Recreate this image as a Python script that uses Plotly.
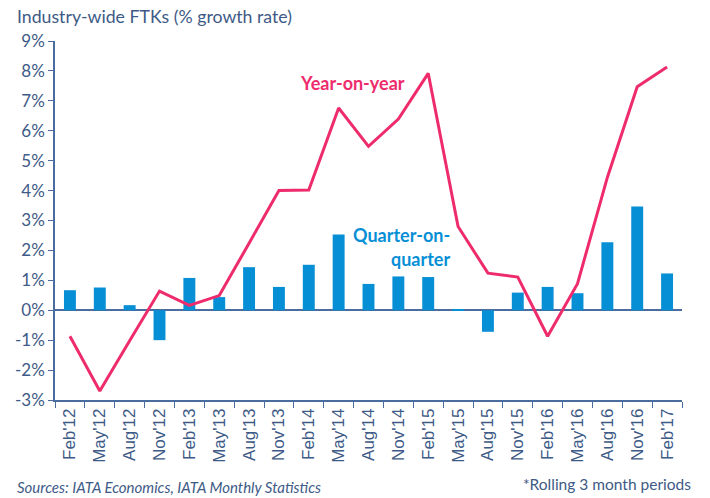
import plotly.graph_objects as go

categories = ["Feb'12", "May'12", "Aug'12", "Nov'12", "Feb'13", "May'13", "Aug'13", "Nov'13",
              "Feb'14", "May'14", "Aug'14", "Nov'14", "Feb'15", "May'15", "Aug'15", "Nov'15",
              "Feb'16", "May'16", "Aug'16", "Nov'16", "Feb'17"]
qoq = [0.67, 0.76, 0.17, -1.0, 1.08, 0.44, 1.44, 0.78, 1.52, 2.53, 0.88, 1.13, 1.11, 0.04,
       -0.72, 0.59, 0.78, 0.57, 2.27, 3.47, 1.23]
yoy = [-0.87, -2.7, -1.02, 0.64, 0.16, 0.49, 2.24, 4.0, 4.02, 6.76, 5.48, 6.39, 7.92, 2.8,
       1.24, 1.11, -0.87, 0.89, 4.44, 7.47, 8.13]
y_ticks = [-3, -2, -1, 0, 1, 2, 3, 4, 5, 6, 7, 8, 9]

axis_col = "#4A6C9E"
text_col = "#3E5A86"
bar_col = "#078FD6"
line_col = "#EE2C6C"
font = "Lato, Open Sans, sans-serif"

PW, PH = 627.0, 359.0  # plot-area size in px

fig = go.Figure()
fig.add_trace(go.Bar(x=categories, y=qoq, marker=dict(color=bar_col, line=dict(width=0)),
                     width=0.4, name="Quarter-on-quarter"))
fig.add_trace(go.Scatter(x=categories, y=yoy, mode="lines", line=dict(color=line_col, width=3),
                         name="Year-on-year"))

fig.update_layout(
    width=710, height=498, showlegend=False,
    plot_bgcolor="white", paper_bgcolor="white",
    margin=dict(l=55, r=28, t=41, b=98),
    font=dict(family=font, color=text_col),
    xaxis=dict(type="category", showline=True, linecolor=axis_col, linewidth=1.5,
               ticks="outside", tickson="boundaries", ticklen=6, tickcolor=axis_col,
               tickangle=-90, showgrid=False, zeroline=False, automargin=False,
               tickfont=dict(family="Liberation Sans, Arial, sans-serif", size=17, color=text_col)),
    yaxis=dict(range=[-3, 9], tickvals=y_ticks, ticktext=[f"{v}%" for v in y_ticks],
               showline=True, linecolor=axis_col, linewidth=1.5, ticks="outside", ticklen=5,
               tickcolor=axis_col, showgrid=False, zeroline=True, zerolinecolor=axis_col,
               zerolinewidth=1.5, automargin=False,
               tickfont=dict(family=font, size=17, color=text_col)),
    annotations=[
        dict(text="Industry-wide FTKs (% growth rate)", xref="paper", yref="paper",
             x=-40/PW, y=1 + 24/PH, xanchor="left", yanchor="middle", showarrow=False,
             font=dict(family=font, size=17.7, color=text_col)),
        dict(text="<b>Year-on-year</b>", x=9.48, y=7.6, xref="x", yref="y", xanchor="center",
             yanchor="middle", showarrow=False, font=dict(family=font, size=18, color=line_col)),
        dict(text="<b>Quarter-on-</b>", x=12.79, y=2.52, xref="x", yref="y",
             xanchor="right", yanchor="middle", showarrow=False,
             font=dict(family=font, size=18, color=bar_col)),
        dict(text="<b>quarter</b>", x=12.79, y=1.7, xref="x", yref="y",
             xanchor="right", yanchor="middle", showarrow=False,
             font=dict(family=font, size=18, color=bar_col)),
        dict(text="<i>Sources: IATA Economics, IATA Monthly Statistics</i>", xref="paper",
             yref="paper", x=-40/PW, y=-87/PH, xanchor="left", yanchor="middle",
             showarrow=False, font=dict(family=font, size=15, color=text_col)),
        dict(text="*Rolling 3 month periods", xref="paper", yref="paper", x=1 + 11/PW,
             y=-84/PH, xanchor="right", yanchor="middle", showarrow=False,
             font=dict(family=font, size=15.5, color=text_col)),
    ],
)

fig.write_html("out.html", config={"displayModeBar": False},
               post_script="document.body.style.margin='0';")
